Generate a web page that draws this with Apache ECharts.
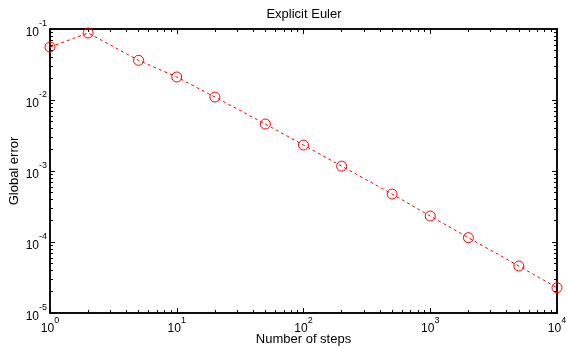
<!DOCTYPE html>
<html>
<head>
<meta charset="utf-8">
<script src="https://cdn.jsdelivr.net/npm/echarts@6/dist/echarts.min.js"></script>
<style>
  html, body { margin: 0; padding: 0; background: #fff; }
  #chart { width: 567px; height: 346px; }
</style>
</head>
<body>
<div id="chart"></div>
<script>
// number of steps vs global error
const steps = [1, 2, 5, 10, 20, 50, 100, 200, 500, 1000, 2000, 5000, 10000];
const errors = [0.0557, 0.0878, 0.0362, 0.0211, 0.0110, 0.00459, 0.00232, 0.00117,
  0.000474, 0.000232, 0.000115, 0.0000459, 0.0000227];

const xMajor = [1, 10, 100, 1000, 10000];
const yMajor = [1e-5, 1e-4, 1e-3, 1e-2, 1e-1];

// 2..9 within every decade
function minorsOf(major) {
  const out = [];
  for (let i = 0; i < major.length - 1; i++) {
    for (let k = 2; k <= 9; k++) out.push(major[i] * k);
  }
  return out;
}
const xMinor = minorsOf(xMajor);
const yMinor = minorsOf(yMajor);

const FONT = "'Liberation Sans', Arial, Helvetica, sans-serif";
const expRich = {
  b: { fontSize: 12, lineHeight: 19, verticalAlign: 'bottom', color: '#000', fontFamily: FONT },
  s: { fontSize: 9, lineHeight: 9, verticalAlign: 'top', color: '#000', fontFamily: FONT }
};
const expLabel = v => '{b|10}{s|' + Math.round(Math.log10(v)) + '}';

function logAxis(position, min, max, ticks, len, opts) {
  return Object.assign({
    type: 'log',
    logBase: 10,
    position: position,
    min: min,
    max: max,
    axisLine: { show: true, onZero: false, lineStyle: { color: '#000', width: 1.5 } },
    axisTick: { show: true, inside: true, length: len, customValues: ticks,
      lineStyle: { color: '#000', width: 1 } },
    axisLabel: { show: false },
    splitLine: { show: false },
    minorTick: { show: false }
  }, opts || {});
}

const chart = echarts.init(document.getElementById('chart'));
chart.setOption({
  animation: false,
  backgroundColor: '#fff',
  title: {
    text: 'Explicit Euler',
    left: 304,
    top: 8,
    padding: 0,
    textAlign: 'center',
    textStyle: { fontSize: 13, fontWeight: 'normal', color: '#000', fontFamily: FONT }
  },
  grid: { left: 50, right: 10, top: 29, bottom: 33, outerBoundsMode: 'none', containLabel: false },
  xAxis: [
    logAxis('bottom', 1, 10000, xMajor, 5, {
      name: 'Number of steps',
      nameLocation: 'middle',
      nameGap: 20,
      nameMoveOverlap: false,
      nameTextStyle: { fontSize: 13, color: '#000', fontFamily: FONT },
      axisLabel: { show: true, margin: 3, customValues: xMajor, formatter: expLabel, rich: expRich }
    }),
    logAxis('bottom', 1, 10000, xMinor, 3),
    logAxis('top', 1, 10000, xMajor, 5),
    logAxis('top', 1, 10000, xMinor, 3)
  ],
  yAxis: [
    logAxis('left', 1e-5, 1e-1, yMajor, 5, {
      name: 'Global error',
      nameLocation: 'middle',
      nameGap: 29,
      nameMoveOverlap: false,
      nameTextStyle: { fontSize: 13, color: '#000', fontFamily: FONT },
      axisLabel: { show: true, margin: 3, customValues: yMajor, formatter: expLabel, rich: expRich }
    }),
    logAxis('left', 1e-5, 1e-1, yMinor, 3),
    logAxis('right', 1e-5, 1e-1, yMajor, 5),
    logAxis('right', 1e-5, 1e-1, yMinor, 3)
  ],
  series: [{
    type: 'line',
    xAxisIndex: 0,
    yAxisIndex: 0,
    data: steps.map((s, i) => [s, errors[i]]),
    symbol: 'circle',
    symbolSize: 10,
    showAllSymbol: true,
    lineStyle: { color: '#ff0000', width: 1, type: [3, 3] },
    itemStyle: { color: 'rgba(0,0,0,0)', borderColor: '#ff0000', borderWidth: 1 }
  }]
});
</script>
</body>
</html>
